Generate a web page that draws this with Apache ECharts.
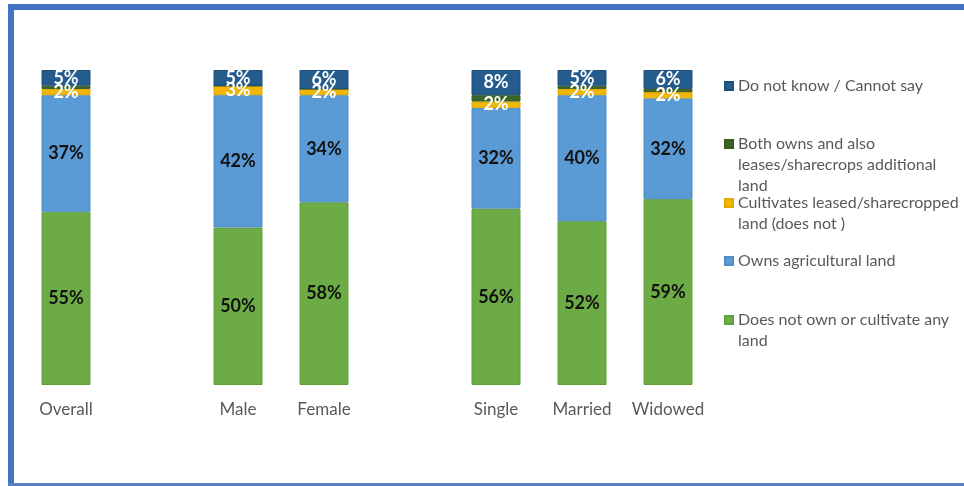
<!DOCTYPE html>
<html>
<head>
<meta charset="utf-8">
<style>
  html, body { margin: 0; padding: 0; background: #ffffff; }
  #chart { width: 964px; height: 486px; }
</style>
<script src="https://cdn.jsdelivr.net/npm/echarts@6/dist/echarts.min.js"></script>
</head>
<body>
<div id="chart"></div>
<script>
// Groups: Overall | Male, Female | Single, Married, Widowed (blank slots separate the groups)
const categories = ['Overall', '', 'Male', 'Female', '', 'Single', 'Married', 'Widowed'];

// Shares in percent, '-' marks the blank spacer slots
const doesNotOwn   = [55, '-', 50, 58, '-', 56, 52, 59];
const ownsLand     = [37, '-', 42, 34, '-', 32, 40, 32];
const cultivates   = [2,  '-', 3,  2,  '-', 2,  2,  2];
const bothOwns     = [1,  '-', 0,  0,  '-', 2,  1,  1];
const doNotKnow    = [5,  '-', 5,  6,  '-', 8,  5,  6];

const seriesNames = {
  dnk: 'Do not know / Cannot say',
  both: 'Both owns and also leases/sharecrops additional land',
  cult: 'Cultivates leased/sharecropped land (does not )',
  owns: 'Owns agricultural land',
  none: 'Does not own or cultivate any land'
};

// Wrapped legend text, line by line
const legendLines = {
  [seriesNames.dnk]: ['Do not know / Cannot say'],
  [seriesNames.both]: ['Both owns and also', 'leases/sharecrops additional', 'land'],
  [seriesNames.cult]: ['Cultivates leased/sharecropped', 'land (does not )'],
  [seriesNames.owns]: ['Owns agricultural land'],
  [seriesNames.none]: ['Does not own or cultivate any', 'land']
};

const colors = {
  dnk: '#245c8e',
  both: '#3d6628',
  cult: '#f2b705',
  owns: '#5b9bd5',
  none: '#6cab46'
};
const borders = {
  dnk: '#1d4f7b',
  both: '#355a22',
  cult: '#e0a800',
  owns: '#4f8dc6',
  none: '#62a03e'
};

const FONT = 'Lato, "Open Sans", sans-serif';
const LINE_H = 21;
const LEGEND_PAD = 5;

function pctLabel(color) {
  return {
    show: true,
    position: 'inside',
    color: color,
    fontFamily: FONT,
    fontWeight: 'bold',
    fontSize: 18,
    formatter: p => (p.value === '-' ? '' : p.value + '%')
  };
}

function barSeries(key, data, label) {
  return {
    name: seriesNames[key],
    type: 'bar',
    stack: 'total',
    data: data,
    barWidth: 49,
    itemStyle: { color: colors[key], borderColor: borders[key], borderWidth: 1 },
    label: label || { show: false },
    emphasis: { disabled: true },
    silent: true
  };
}

// One legend block per entry. Blank lines are prepended so the swatch,
// which sits at the vertical middle of the text, lines up with the first line.
function legendBlock(key, firstLineY) {
  const lines = legendLines[seriesNames[key]];
  const n = lines.length;
  const top = firstLineY - LEGEND_PAD - LINE_H / 2 - (n - 1) * LINE_H;
  return {
    data: [seriesNames[key]],
    left: 719,
    top: top,
    orient: 'vertical',
    itemWidth: 8,
    itemHeight: 8,
    icon: 'rect',
    selectedMode: false,
    formatter: name => {
      const ls = legendLines[name];
      return '\n'.repeat(ls.length - 1) + ls.join('\n');
    },
    textStyle: {
      fontFamily: FONT,
      fontSize: 16,
      color: '#595959',
      lineHeight: LINE_H
    }
  };
}

const chart = echarts.init(document.getElementById('chart'), null, { renderer: 'canvas' });

chart.setOption({
  animation: false,
  backgroundColor: '#ffffff',
  grid: { left: 23, right: 253, top: 70, bottom: 101, containLabel: false },
  xAxis: {
    type: 'category',
    data: categories,
    axisLine: { show: false },
    axisTick: { show: false },
    axisLabel: {
      margin: 16,
      fontFamily: FONT,
      fontSize: 17,
      color: '#595959',
      interval: 0
    }
  },
  yAxis: {
    type: 'value',
    min: 0,
    max: 100,
    show: false,
    splitLine: { show: false }
  },
  legend: [
    legendBlock('dnk', 86),
    legendBlock('both', 144),
    legendBlock('cult', 203),
    legendBlock('owns', 261),
    legendBlock('none', 320)
  ],
  series: [
    barSeries('none', doesNotOwn, pctLabel('#111111')),
    barSeries('owns', ownsLand, pctLabel('#111111')),
    barSeries('cult', cultivates, pctLabel('#ffffff')),
    barSeries('both', bothOwns),
    barSeries('dnk', doNotKnow, pctLabel('#ffffff'))
  ],
  graphic: [
    // blue frame around the figure
    { type: 'rect', shape: { x: 8, y: 4, width: 956, height: 6 }, style: { fill: '#4472c4' }, silent: true },
    { type: 'rect', shape: { x: 8, y: 4, width: 6, height: 482 }, style: { fill: '#4472c4' }, silent: true },
    { type: 'rect', shape: { x: 8, y: 483, width: 956, height: 3 }, style: { fill: '#5b7fc0' }, silent: true }
  ]
});
</script>
</body>
</html>
